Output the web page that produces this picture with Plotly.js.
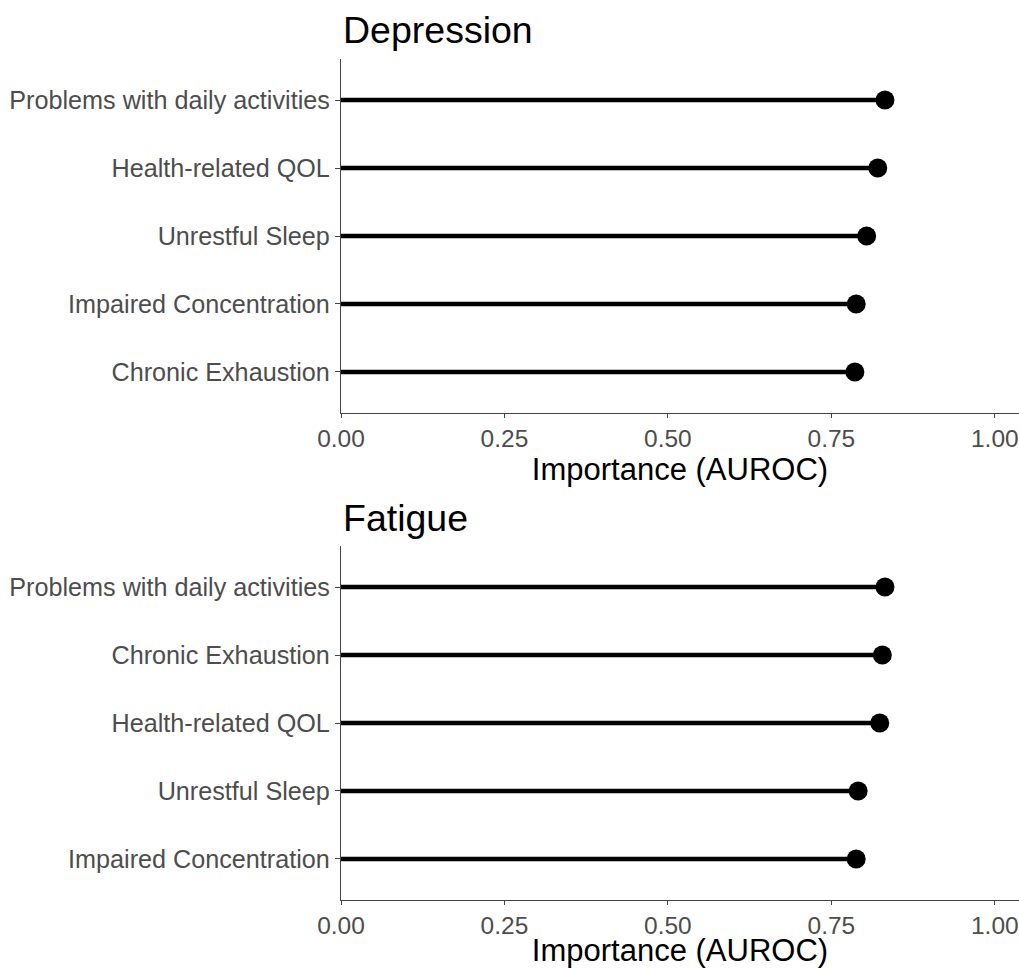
<!DOCTYPE html>
<html>
<head>
<meta charset="utf-8">
<script src="https://cdn.plot.ly/plotly-3.0.1.min.js"></script>
<style>html,body{margin:0;padding:0;background:#fff;}#chart{width:1019px;height:968px;}</style>
</head>
<body>
<div id="chart"></div>
<script>
// Panel titles
const panelTitles = ["Depression", "Fatigue"];
// Depression panel (top to bottom)
const depCategories = ["Problems with daily activities", "Health-related QOL", "Unrestful Sleep", "Impaired Concentration", "Chronic Exhaustion"];
const depValues = [0.832, 0.821, 0.804, 0.788, 0.786];
// Fatigue panel (top to bottom)
const fatCategories = ["Problems with daily activities", "Chronic Exhaustion", "Health-related QOL", "Unrestful Sleep", "Impaired Concentration"];
const fatValues = [0.832, 0.828, 0.824, 0.791, 0.788];
// X axis ticks
const xTickVals = [0, 0.25, 0.5, 0.75, 1.0];
const xTickText = ["0.00", "0.25", "0.50", "0.75", "1.00"];
const xAxisTitle = "Importance (AUROC)";

const FONT = "Liberation Sans, Arial, sans-serif";

function lollipop(cats, vals, xa, ya) {
  return {
    type: "scatter", mode: "markers",
    x: vals, y: cats, xaxis: xa, yaxis: ya,
    marker: {color: "#000000", size: 19},
    error_x: {type: "data", symmetric: false, array: vals.map(() => 0), arrayminus: vals,
              color: "#000000", thickness: 4.5, width: 0},
    cliponaxis: false, showlegend: false, hoverinfo: "x+y"
  };
}

const data = [
  lollipop(depCategories, depValues, "x", "y"),
  lollipop(fatCategories, fatValues, "x2", "y2")
];

function xaxisDef(domainAnchor) {
  return {
    anchor: domainAnchor, domain: [0, 1], range: [0, 1.037],
    tickmode: "array", tickvals: xTickVals, ticktext: xTickText,
    showgrid: false, zeroline: false,
    showline: true, linecolor: "#444444", linewidth: 1.2,
    ticks: "outside", ticklen: 4, tickcolor: "#444444", tickwidth: 1.2,
    tickfont: {family: FONT, size: 24.5, color: "#4d4d4d"},
    title: {text: xAxisTitle, font: {family: FONT, size: 31, color: "#000000"}, standoff: 0},
    fixedrange: true
  };
}
function yaxisDef(cats, dom, anchor) {
  return {
    anchor: anchor, domain: dom,
    type: "category", categoryorder: "array", categoryarray: cats.slice().reverse(),
    range: [-0.6, 4.6],
    showgrid: false, zeroline: false,
    showline: true, linecolor: "#444444", linewidth: 1.2,
    ticks: "outside", ticklen: 5, tickcolor: "#444444", tickwidth: 1.2,
    tickfont: {family: FONT, size: 25.2, color: "#4d4d4d"},
    ticklabelstandoff: 0,
    fixedrange: true
  };
}

const layout = {
  width: 1019, height: 968,
  margin: {l: 341, r: 0, t: 0, b: 0},
  paper_bgcolor: "#ffffff", plot_bgcolor: "#ffffff",
  font: {family: FONT},
  xaxis: xaxisDef("y"),
  yaxis: yaxisDef(depCategories, [0.5736, 0.9388], "x"),
  xaxis2: xaxisDef("y2"),
  yaxis2: yaxisDef(fatCategories, [0.0705, 0.4357], "x2"),
  annotations: [
    {text: panelTitles[0], xref: "paper", yref: "paper", x: 0, y: 1 - 30/968, xanchor: "left", yanchor: "middle",
     showarrow: false, font: {family: FONT, size: 37.5, color: "#000000"}},
    {text: panelTitles[1], xref: "paper", yref: "paper", x: 0, y: 1 - 518/968, xanchor: "left", yanchor: "middle",
     showarrow: false, font: {family: FONT, size: 37.5, color: "#000000"}}
  ]
};

Plotly.newPlot("chart", data, layout, {displayModeBar: false, staticPlot: false});
</script>
</body>
</html>
